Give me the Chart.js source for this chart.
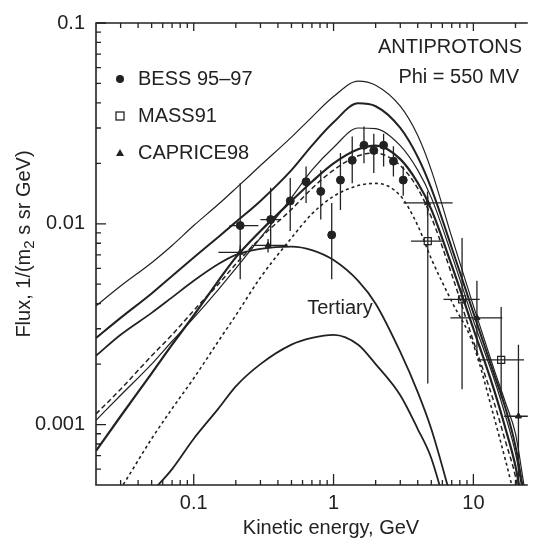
<!DOCTYPE html>
<html>
<head>
<meta charset="utf-8">
<script src="https://cdn.jsdelivr.net/npm/chart.js@4.4.1/dist/chart.umd.min.js"></script>
<style>
  html, body { margin: 0; padding: 0; background: #fff; }
</style>
</head>
<body>
<canvas id="chart" width="534" height="545"></canvas>
<script>
// model curves (GeV, flux)
const energy = [0.02, 0.03, 0.05, 0.07, 0.1, 0.15, 0.2, 0.3, 0.5, 0.7, 1, 1.5, 2, 3, 4, 5, 7, 10, 14, 17, 20, 23]
const curveA = [0.0039, 0.0049, 0.0064, 0.0078, 0.0098, 0.0125, 0.0150, 0.0195, 0.0270, 0.0340, 0.0430, 0.0514, 0.0490, 0.0385, 0.0275, 0.0185, 0.0086, 0.0039, 0.0019, 0.00128, 0.0009, 0.0005]
const curveB = [0.0027, 0.0034, 0.0045, 0.0055, 0.0068, 0.0086, 0.0102, 0.0130, 0.0185, 0.0245, 0.0320, 0.0398, 0.0385, 0.0300, 0.0215, 0.0150, 0.0076, 0.0036, 0.0018, 0.0012, 0.00078, 0.00045]
const curveC = [0.00105, 0.0014, 0.0020, 0.0026, 0.0034, 0.0047, 0.0060, 0.0085, 0.0135, 0.0185, 0.0240, 0.0300, 0.0298, 0.0245, 0.0185, 0.0135, 0.0070, 0.0033, 0.0017, 0.0011, 0.00072, 0.00042]
const curveD = [0.00074, 0.0011, 0.0018, 0.0025, 0.0035, 0.0052, 0.0068, 0.0092, 0.0130, 0.0162, 0.0200, 0.0235, 0.0245, 0.0210, 0.0160, 0.0118, 0.0062, 0.0030, 0.0015, 0.00095, 0.00062, 0.00036]
const curveDashed = [0.00113, 0.0015, 0.0022, 0.0028, 0.0037, 0.0050, 0.0063, 0.0085, 0.0118, 0.0150, 0.0185, 0.0218, 0.0225, 0.0195, 0.0150, 0.0108, 0.0056, 0.0026, 0.0013, 0.00082, 0.00055, 0.00032]
const curveDotted = [0.00032, 0.00048, 0.00085, 0.0012, 0.0017, 0.0026, 0.0035, 0.0054, 0.0085, 0.0112, 0.0137, 0.0155, 0.0159, 0.0138, 0.0098, 0.0067, 0.0041, 0.0025, 0.0011, 0.00066, 0.00042, 0.00028]

const tertiaryE = [0.02, 0.03, 0.05, 0.07, 0.1, 0.15, 0.2, 0.3, 0.5, 0.7, 1, 1.5, 2, 3, 4, 5, 7]
const tertiaryHigh = [0.0022, 0.0028, 0.0036, 0.0043, 0.0052, 0.0063, 0.0070, 0.0075, 0.0077, 0.0074, 0.0066, 0.0052, 0.0040, 0.0023, 0.00145, 0.00095, 0.00042]
const tertiaryLow = [0.00018, 0.0003, 0.00046, 0.0006, 0.00085, 0.0012, 0.00155, 0.0020, 0.0025, 0.0027, 0.0028, 0.0025, 0.0020, 0.0014, 0.00095, 0.00068, 0.0003]

// measurements
const bessE = [0.215, 0.355, 0.49, 0.636, 0.81, 0.97, 1.12, 1.36, 1.65, 1.94, 2.28, 2.68, 3.15]
const bessF = [0.0098, 0.0105, 0.0130, 0.0162, 0.0145, 0.0088, 0.0165, 0.0207, 0.0246, 0.0232, 0.0246, 0.0205, 0.0165]
const bessHi = [0.0159, 0.0151, 0.0169, 0.0193, 0.0185, 0.0127, 0.0225, 0.0272, 0.0305, 0.0281, 0.0281, 0.0243, 0.0193]
const bessLo = [0.0053, 0.0076, 0.0092, 0.0127, 0.0105, 0.0053, 0.0117, 0.0159, 0.0200, 0.0179, 0.0193, 0.0172, 0.0138]
const bessELo = [0.18, 0.30, null, null, null, null, null, null, null, null, null, null, null]
const bessEHi = [0.29, 0.42, null, null, null, null, null, null, null, null, null, null, null]

const massE = [4.72, 8.3, 15.8]
const massF = [0.0082, 0.0042, 0.0021]
const massHi = [0.0137, 0.0085, 0.00385]
const massLo = [0.0016, 0.0015, 0.00135]
const massELo = [3.58, 6.11, 10.7]
const massEHi = [6.0, 11.1, 23]

const capriceE = [0.215, 0.34, 4.7, 10.6, 21]
const capriceF = [0.0072, 0.0078, 0.0127, 0.0034, 0.0011]
const capriceHi = [0.0078, 0.0084, 0.0145, 0.0052, 0.0025]
const capriceLo = [0.0066, 0.0072, 0.0110, 0.0022, 0.0003]
const capriceELo = [0.15, 0.26, 3.16, 6.85, 16.6]
const capriceEHi = [0.22, 0.47, 7.1, 16.1, 30]

const xMajor = [0.1, 1, 10]
const xMinor = [0.03, 0.04, 0.05, 0.06, 0.07, 0.08, 0.09, 0.2, 0.3, 0.4, 0.5, 0.6, 0.7, 0.8, 0.9, 2, 3, 4, 5, 6, 7, 8, 9, 20]
const yMajor = [0.001, 0.01, 0.1]
const yMinor = [0.0006, 0.0007, 0.0008, 0.0009, 0.002, 0.003, 0.004, 0.005, 0.006, 0.007, 0.008, 0.009, 0.02, 0.03, 0.04, 0.05, 0.06, 0.07, 0.08, 0.09]

const ink = '#222'
const font = '"Liberation Sans", Arial, Helvetica, sans-serif'

const pts = (xs, ys) => xs.map((x, i) => ({ x: x, y: ys[i] }))

const curve = (xs, ys, width, dash) => ({
  type: 'line',
  data: pts(xs, ys),
  borderColor: ink,
  borderWidth: width,
  borderDash: dash || [],
  pointRadius: 0,
  cubicInterpolationMode: 'monotone',
  fill: false
})

const errorBars = {
  id: 'errorBars',
  afterDatasetsDraw(chart) {
    const { ctx, scales: { x, y } } = chart
    const sets = [
      [bessE, bessF, bessLo, bessHi, bessELo, bessEHi],
      [massE, massF, massLo, massHi, massELo, massEHi],
      [capriceE, capriceF, capriceLo, capriceHi, capriceELo, capriceEHi]
    ]
    ctx.save()
    ctx.beginPath()
    ctx.rect(chart.chartArea.left, chart.chartArea.top, chart.chartArea.width, chart.chartArea.height)
    ctx.clip()
    ctx.strokeStyle = ink
    ctx.lineWidth = 1.3
    sets.forEach(([es, fs, lo, hi, elo, ehi]) => {
      es.forEach((e, i) => {
        const px = x.getPixelForValue(e)
        const py = y.getPixelForValue(fs[i])
        ctx.beginPath()
        ctx.moveTo(px, y.getPixelForValue(hi[i]))
        ctx.lineTo(px, y.getPixelForValue(lo[i]))
        if (elo[i] != null) {
          ctx.moveTo(x.getPixelForValue(elo[i]), py)
          ctx.lineTo(x.getPixelForValue(ehi[i]), py)
        }
        ctx.stroke()
      })
    })
    ctx.restore()
  }
}

const frame = {
  id: 'frame',
  afterDraw(chart) {
    const { ctx, chartArea: a, scales: { x, y } } = chart
    ctx.save()
    ctx.strokeStyle = ink
    ctx.lineWidth = 1.6
    ctx.beginPath()
    ctx.moveTo(a.right, a.top)
    ctx.lineTo(a.left, a.top)
    ctx.lineTo(a.left, a.bottom)
    ctx.lineTo(a.right, a.bottom)
    ctx.stroke()

    ctx.lineWidth = 1.3
    ctx.beginPath()
    const xt = (v, lb, lt) => {
      const p = x.getPixelForValue(v)
      ctx.moveTo(p, a.bottom); ctx.lineTo(p, a.bottom - lb)
      ctx.moveTo(p, a.top); ctx.lineTo(p, a.top + lt)
    }
    xMajor.forEach(v => xt(v, 11, 8))
    xMinor.forEach(v => xt(v, 5, 5))
    const yt = (v, l) => {
      const p = y.getPixelForValue(v)
      ctx.moveTo(a.left, p); ctx.lineTo(a.left + l, p)
    }
    yMajor.forEach(v => yt(v, 10))
    yMinor.forEach(v => yt(v, 5))
    ctx.stroke()

    // text
    ctx.fillStyle = ink
    ctx.font = '20px ' + font
    ctx.textBaseline = 'middle'
    ctx.textAlign = 'right'
    ctx.fillText('ANTIPROTONS', 522, 47)
    ctx.fillText('Phi = 550 MV', 519, 77)
    ctx.textAlign = 'center'
    ctx.fillText('Tertiary', 340, 308)
    ctx.fillText('Kinetic energy, GeV', 331, 528)

    // legend
    ctx.textAlign = 'left'
    ctx.fillText('BESS 95\u201397', 138, 79)
    ctx.fillText('MASS91', 138, 116)
    ctx.fillText('CAPRICE98', 138, 153)
    ctx.beginPath()
    ctx.arc(120, 79, 4, 0, Math.PI * 2)
    ctx.fill()
    ctx.lineWidth = 1.3
    ctx.strokeRect(116, 112, 8, 8)
    ctx.beginPath()
    ctx.moveTo(120, 149); ctx.lineTo(124, 156); ctx.lineTo(116, 156); ctx.closePath()
    ctx.fill()

    // y title with subscript
    ctx.translate(24, 244)
    ctx.rotate(-Math.PI / 2)
    const p1 = 'Flux, 1/(m', p2 = '2', p3 = ' s sr GeV)'
    ctx.font = '20px ' + font
    const w1 = ctx.measureText(p1).width, w3 = ctx.measureText(p3).width
    ctx.font = '15px ' + font
    const w2 = ctx.measureText(p2).width
    let sx = -(w1 + w2 + w3) / 2
    ctx.textAlign = 'left'
    ctx.font = '20px ' + font
    ctx.fillText(p1, sx, 0)
    ctx.font = '15px ' + font
    ctx.fillText(p2, sx + w1, 6)
    ctx.font = '20px ' + font
    ctx.fillText(p3, sx + w1 + w2, 0)
    ctx.restore()
  }
}

new Chart(document.getElementById('chart'), {
  type: 'scatter',
  data: {
    datasets: [
      curve(energy, curveA, 1.2),
      curve(energy, curveB, 2.0),
      curve(energy, curveC, 1.2),
      curve(energy, curveD, 2.2),
      curve(energy, curveDashed, 1.5, [5, 3]),
      curve(energy, curveDotted, 1.6, [3, 3]),
      curve(tertiaryE, tertiaryHigh, 1.8),
      curve(tertiaryE, tertiaryLow, 1.8),
      {
        type: 'scatter', data: pts(bessE, bessF),
        pointStyle: 'circle', pointRadius: 4, backgroundColor: ink, borderColor: ink
      },
      {
        type: 'scatter', data: pts(massE, massF),
        pointStyle: 'rect', pointRadius: 5, backgroundColor: '#fff', borderColor: ink, borderWidth: 1.2
      },
      {
        type: 'scatter', data: pts(capriceE, capriceF),
        pointStyle: 'triangle', pointRadius: 3.5, backgroundColor: ink, borderColor: ink
      }
    ]
  },
  options: {
    responsive: false,
    animation: false,
    layout: { padding: { top: 18, right: 0, left: 0, bottom: 0 } },
    plugins: { legend: { display: false }, tooltip: { enabled: false } },
    scales: {
      x: {
        type: 'logarithmic',
        min: 0.02,
        max: 24.5,
        grid: { display: false, drawTicks: false },
        border: { display: false },
        afterFit: s => { s.height = 60 },
        afterBuildTicks: s => { s.ticks = xMajor.map(v => ({ value: v })) },
        ticks: {
          padding: 6, color: ink, autoSkip: false, maxRotation: 0,
          font: { size: 20, family: font },
          callback: v => String(v)
        }
      },
      y: {
        type: 'logarithmic',
        min: 0.0005,
        max: 0.1,
        grid: { display: false, drawTicks: false },
        border: { display: false },
        afterFit: s => { s.width = 96 },
        afterBuildTicks: s => { s.ticks = yMajor.map(v => ({ value: v })) },
        ticks: {
          padding: 11, color: ink, autoSkip: false,
          font: { size: 20, family: font },
          callback: v => String(v)
        }
      }
    }
  },
  plugins: [errorBars, frame]
})
</script>
</body>
</html>
